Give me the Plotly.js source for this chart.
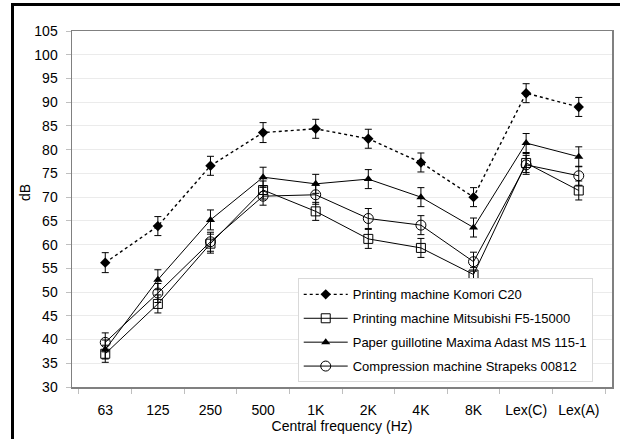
<!DOCTYPE html>
<html>
<head>
<meta charset="utf-8">
<script src="https://cdn.plot.ly/plotly-3.0.1.min.js"></script>
<style>
  html, body { margin: 0; padding: 0; background: #fff; }
  #wrap { position: relative; width: 620px; height: 439px; overflow: hidden; }
  #chart { position: absolute; left: 0; top: 0; width: 620px; height: 439px; }
  #frame { position: absolute; left: 11px; top: 3px; width: 640px; height: 460px;
           border-left: 3px solid #000; border-top: 3px solid #000; pointer-events: none; }
</style>
</head>
<body>
<div id="wrap">
  <div id="chart"></div>
  <div id="frame"></div>
</div>
<script>
const categories = ['63', '125', '250', '500', '1K', '2K', '4K', '8K', 'Lex(C)', 'Lex(A)'];

const komori      = [56.2, 63.9, 76.6, 83.6, 84.4, 82.3, 77.3, 70.0, 91.9, 89.0];
const mitsubishi  = [37.0, 47.5, 60.2, 71.5, 67.0, 61.2, 59.3, 53.7, 77.2, 71.4];
const guillotine  = [37.9, 52.6, 65.2, 74.2, 72.8, 73.8, 70.0, 63.6, 81.4, 78.5];
const compression = [39.4, 49.8, 60.6, 70.2, 70.5, 65.5, 64.1, 56.4, 76.8, 74.5];

const komoriErr      = [2.1, 2.0, 2.0, 2.1, 2.0, 2.0, 2.0, 2.0, 2.0, 2.0];
const mitsubishiErr  = [1.8, 1.9, 2.0, 1.9, 1.9, 2.0, 2.0, 1.5, 2.0, 2.0];
const guillotineErr  = [2.0, 2.1, 2.1, 2.1, 2.0, 2.0, 2.0, 2.0, 2.0, 2.1];
const compressionErr = [2.0, 2.0, 2.0, 1.9, 2.0, 2.1, 2.0, 2.0, 2.0, 2.0];

const seriesNames = [
  'Printing machine Komori C20',
  'Printing machine Mitsubishi F5-15000',
  'Paper guillotine Maxima Adast MS 115-1',
  'Compression machine Strapeks 00812'
];

function errBar(arr) {
  return { type: 'data', array: arr, visible: true, color: '#000', thickness: 1, width: 3.5 };
}

const traces = [
  {
    x: categories, y: komori, name: seriesNames[0], legendgroup: 'a',
    mode: 'lines+markers', type: 'scatter',
    line: { color: '#000', width: 1.4, dash: 'dot' },
    marker: { symbol: 'diamond', size: 8, color: '#000' },
    error_y: errBar(komoriErr)
  },
  {
    x: categories, y: mitsubishi, name: seriesNames[1], legendgroup: 'b',
    mode: 'lines+markers', type: 'scatter',
    line: { color: '#000', width: 1 },
    marker: { symbol: 'square-open', size: 9, color: '#000', line: { width: 1, color: '#000' } },
    error_y: errBar(mitsubishiErr)
  },
  {
    x: categories, y: guillotine, name: seriesNames[2], legendgroup: 'c',
    mode: 'lines+markers', type: 'scatter',
    line: { color: '#000', width: 1 },
    marker: { symbol: 'triangle-up', size: 8, color: '#000' },
    error_y: errBar(guillotineErr)
  },
  {
    x: categories, y: compression, name: seriesNames[3], legendgroup: 'd',
    mode: 'lines+markers', type: 'scatter',
    line: { color: '#000', width: 1 },
    marker: { symbol: 'circle-open', size: 10, color: '#000', line: { width: 1, color: '#000' } },
    error_y: errBar(compressionErr)
  }
];

const fontFam = 'Liberation Sans, Arial, sans-serif';

const layout = {
  width: 620, height: 439,
  margin: { l: 72, r: 8, t: 31, b: 52, pad: 0 },
  paper_bgcolor: 'rgba(0,0,0,0)',
  plot_bgcolor: '#fff',
  font: { family: fontFam, size: 14, color: '#000' },
  showlegend: true,
  legend: {
    x: 0.418, y: 0.305, xanchor: 'left', yanchor: 'top',
    bgcolor: '#fff', bordercolor: '#d9d9d9', borderwidth: 1,
    font: { family: fontFam, size: 13, color: '#000' },
    traceorder: 'grouped', tracegroupgap: 4,
    itemwidth: 44
  },
  xaxis: {
    type: 'category',
    title: { text: 'Central frequency (Hz)', font: { size: 14 }, standoff: 0 },
    showline: true, mirror: true, linecolor: '#808080', linewidth: 1.5,
    ticks: 'outside', tickson: 'boundaries', ticklen: 5, tickcolor: '#bfbfbf',
    ticklabelstandoff: 10,
    showgrid: false, zeroline: false,
    tickfont: { size: 14 }
  },
  yaxis: {
    range: [30, 105], dtick: 5, tick0: 30,
    showline: true, mirror: true, linecolor: '#808080', linewidth: 1.5,
    ticks: 'outside', ticklen: 5, tickcolor: '#bfbfbf',
    ticklabelstandoff: 5,
    showgrid: true, gridcolor: '#ebebeb', gridwidth: 1, zeroline: false,
    tickfont: { size: 14 }
  },
  annotations: [{
    text: 'dB', textangle: -90, showarrow: false,
    xref: 'paper', yref: 'paper', x: 0, y: 0.545,
    xanchor: 'center', yanchor: 'middle', xshift: -47,
    font: { family: fontFam, size: 14, color: '#000' }
  }]
};

Plotly.newPlot('chart', traces, layout, { displayModeBar: false, staticPlot: true });
</script>
</body>
</html>
